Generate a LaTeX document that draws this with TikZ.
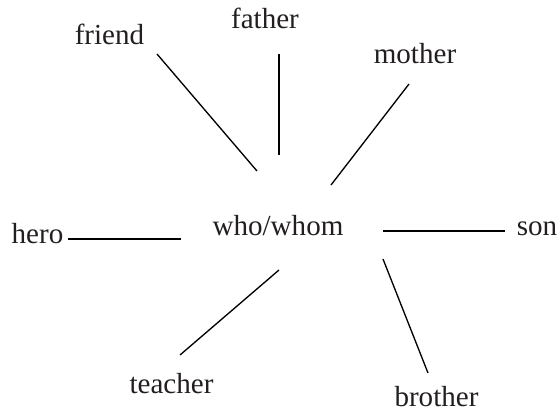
\documentclass[tikz,border=0pt]{standalone}
\usepackage{fontspec}
\setmainfont{Liberation Serif}
\definecolor{WWInk}{HTML}{231F20}
\tikzset{
  word/.style={anchor=base,inner sep=0pt,text=WWInk,font=\fontsize{21.8}{26}\selectfont},
  spoke/.style={black,line width=1pt},
}
\begin{document}
\begin{tikzpicture}[x=0.75pt,y=-0.75pt]
    \useasboundingbox (0,0) rectangle (558,411);
    \node[word] (who) at (278,235) {who/whom};

    \node[word] (friend) at (109.5,44) {friend};
    \node[word] (father) at (265,28) {father};
    \node[word] (mother) at (415,63) {mother};
    \node[word] (hero) at (37.5,243) {hero};
    \node[word] (son) at (537,235) {son};
    \node[word] (teacher) at (171.5,393) {teacher};
    \node[word] (brother) at (436.5,406) {brother};

    \coordinate (friendin) at (257,171);  \coordinate (friendout) at (157,54);
    \coordinate (fatherin) at (279,155);  \coordinate (fatherout) at (279,54);
    \coordinate (motherin) at (331,185);  \coordinate (motherout) at (409,84);
    \coordinate (heroin) at (181,239);    \coordinate (heroout) at (68,239);
    \coordinate (sonin) at (383,231);     \coordinate (sonout) at (505,231);
    \coordinate (teacherin) at (279,270); \coordinate (teacherout) at (180,355);
    \coordinate (brotherin) at (383,259); \coordinate (brotherout) at (428,373);

    \draw[spoke] (friendin)--(friendout);
    \draw[spoke] (fatherin)--(fatherout);
    \draw[spoke] (motherin)--(motherout);
    \draw[spoke] (heroin)--(heroout);
    \draw[spoke] (sonin)--(sonout);
    \draw[spoke] (teacherin)--(teacherout);
    \draw[spoke] (brotherin)--(brotherout);
  \end{tikzpicture}
\end{document}
